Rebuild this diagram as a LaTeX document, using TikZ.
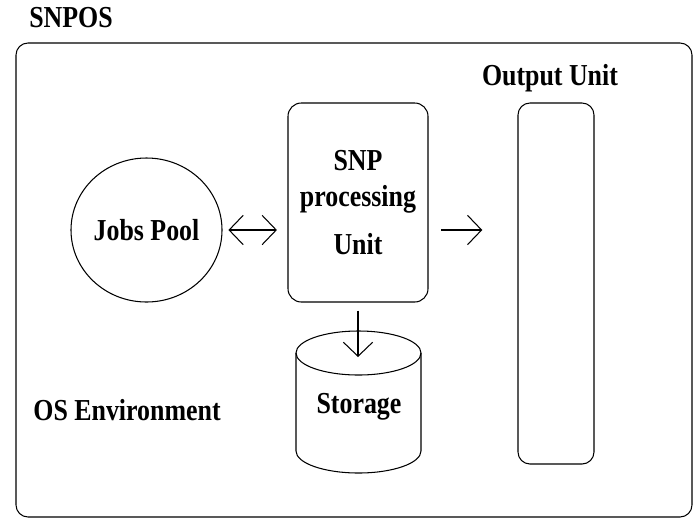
\documentclass[tikz,border=0pt]{standalone}
\usepackage{fontspec}
\setmainfont{Liberation Serif}[FakeStretch=0.85]
\usetikzlibrary{shapes.geometric, arrows.meta}

\begin{document}
\begin{tikzpicture}[
    x=0.03cm, y=-0.03cm,
    font=\fontsize{26}{31}\selectfont\bfseries,
    box/.style={draw, rectangle, rounded corners=0.4cm, inner sep=0pt, line width=0.9pt},
    pool/.style={draw, ellipse, inner sep=0pt, line width=0.9pt, minimum width=4.53cm, minimum height=4.32cm},
    label/.style={anchor=base},
    arrow/.style={>={Straight Barb[length=12pt, width=25pt]}, line width=0.9pt}
]
\useasboundingbox (0,0) rectangle (700,521);

% Frame
\draw[line width=0.9pt, rounded corners=0.36cm] (16,43) rectangle (692,517);

% Nodes
\node[label] (title) at (71,27) {SNPOS};
\node[label] (outlabel) at (550,85) {Output Unit};
\node[label] (osenv) at (127,420) {OS Environment};
\node[pool] (jobs) at (146.5,230) {Jobs Pool};
\node[box, minimum width=4.2cm, minimum height=5.97cm, align=center] (snp) at (358,202.5) {SNP\\processing\\[10pt]Unit};
\node[box, rounded corners=0.36cm, minimum width=2.28cm, minimum height=10.83cm] (outunit) at (556,283.5) {};

% Storage drum
\draw[line width=0.9pt] (296,353) -- (296,451) arc[start angle=180, end angle=0, x radius=62.5, y radius=22] -- (421,353);
\draw[line width=0.9pt] (358.5,353) ellipse [x radius=62.5, y radius=22];
\node[label] (storage) at (359,413) {Storage};
\coordinate (dbtop) at (358,357);

% Arrows
\draw[arrow, <->, shorten <=5pt, shorten >=9pt] (jobs.east) -- (jobs.east -| snp.west);
\draw[arrow, ->, shorten <=11pt, shorten >=30pt] (jobs.east -| snp.east) -- (jobs.east -| outunit.west);
\draw[arrow, ->, shorten <=7pt] (snp.south) -- (dbtop);
\end{tikzpicture}
\end{document}
